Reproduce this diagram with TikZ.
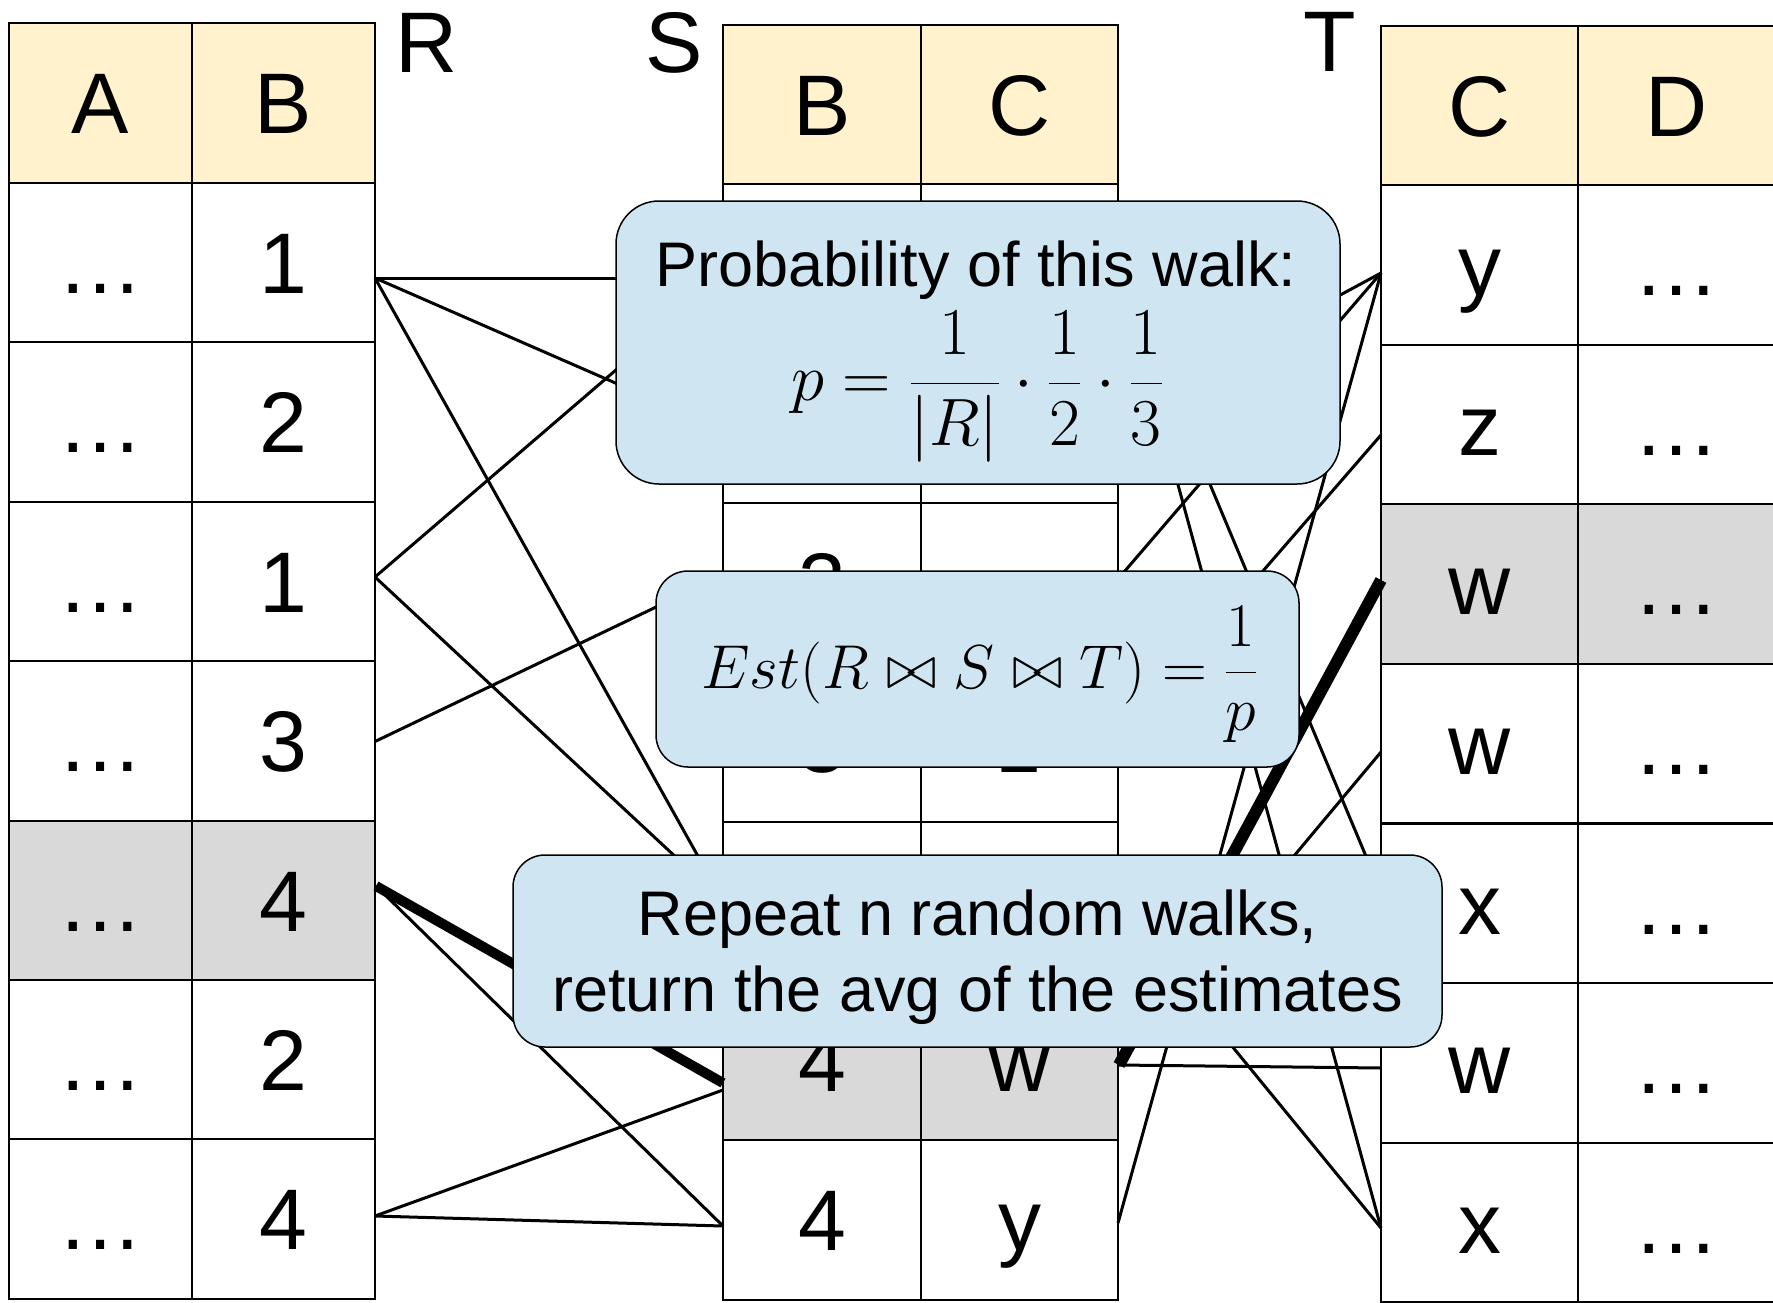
\RequirePackage{fix-cm}
\documentclass[tikz,border=0pt]{standalone}
\usepackage[no-math]{fontspec}
\setmainfont{Liberation Sans}
\definecolor{hdr}{HTML}{FFF2CC}
\definecolor{gry}{HTML}{D9D9D9}
\definecolor{boxblue}{RGB}{207,230,242}
\newcommand\cellfont{\fontsize{86}{90}\selectfont}
\newcommand\boxfont{\fontsize{63}{70}\selectfont}
\tikzset{
  cell/.style={draw=black, line width=2pt, inner sep=0pt, outer sep=0pt,
    minimum height=159.4pt, text height=61.6pt, text depth=0pt, font=\cellfont},
  rcol/.style={cell, minimum width=183pt},
  scola/.style={cell, minimum width=198pt},
  scolb/.style={cell, minimum width=197pt},
  tcol/.style={cell, minimum width=197pt},
  conn/.style={line width=3pt, black},
  walk/.style={line width=10pt, black},
  callout/.style={draw=black, line width=1.5pt, fill=boxblue, inner sep=0pt, outer sep=0pt},
  lbl/.style={anchor=base, inner sep=0pt, font=\cellfont},
  btxt/.style={anchor=base, inner sep=0pt, font=\boxfont},
}
\begin{document}
\begin{tikzpicture}[x=1pt,y=-1pt]
\useasboundingbox (0,0) rectangle (1773,1302);
\clip (0,0) rectangle (1773,1302);
\fill[white] (0,0) rectangle (1773,1302);

% ---------- table R ----------
\node[rcol, fill=hdr, minimum height=160pt] (R-A-0) at (100.5,103) {A};
\node[rcol, fill=hdr, minimum height=160pt] (R-B-0) at (283.5,103) {B};
\foreach \v/\f [count=\i] in {1/white,2/white,1/white,3/white,4/gry,2/white,4/white}{
  \pgfmathsetmacro\cy{183+(\i-0.5)*159.4}
  \node[rcol, fill=\f] (R-A-\i) at (100.5,\cy) {…};
  \node[rcol, fill=\f] (R-B-\i) at (283.5,\cy) {\v};
}
% ---------- table S (cells hidden by the callouts are left blank) ----------
\node[scola, fill=hdr, minimum height=159pt] (S-B-0) at (822,104.5) {B};
\node[scolb, fill=hdr, minimum height=159pt] (S-C-0) at (1019.5,104.5) {C};
\node[scola] (S-B-1) at (822,263.7) {};
\node[scolb] (S-C-1) at (1019.5,263.7) {};
\node[scola] (S-B-2) at (822,423.1) {};
\node[scolb] (S-C-2) at (1019.5,423.1) {};
\node[scola] (S-B-3) at (822,582.5) {3};
\node[scolb] (S-C-3) at (1019.5,582.5) {};
\node[scola] (S-B-4) at (822,741.9) {3};
\node[scolb] (S-C-4) at (1019.5,741.9) {z};
\node[scola] (S-B-5) at (822,901.3) {};
\node[scolb] (S-C-5) at (1019.5,901.3) {};
\node[scola, fill=gry] (S-B-6) at (822,1060.7) {4};
\node[scolb, fill=gry] (S-C-6) at (1019.5,1060.7) {w};
\node[scola] (S-B-7) at (822,1220.1) {4};
\node[scolb] (S-C-7) at (1019.5,1220.1) {y};
% ---------- table T ----------
\node[tcol, fill=hdr, minimum height=159pt] (T-C-0) at (1479.5,105.5) {C};
\node[tcol, fill=hdr, minimum height=159pt] (T-D-0) at (1676.5,105.5) {D};
\foreach \c/\f [count=\i] in {y/white,z/white,w/gry,w/white,x/white,w/white,x/white}{
  \pgfmathsetmacro\cy{185+(\i-0.5)*159.6}
  \node[tcol, fill=\f] (T-C-\i) at (1479.5,\cy) {\c};
  \node[tcol, fill=\f] (T-D-\i) at (1676.5,\cy) {…};
}
% ---------- labels ----------
\node[lbl] (lR) at (426.5,72) {R};
\node[lbl] (lS) at (674.5,72) {S};
\node[lbl] (lT) at (1329.5,71) {T};

% ---------- connector end points ----------
\coordinate (r1) at (375,278);
\coordinate (r3) at (375,577);
\coordinate (r4) at (375,741.5);
\coordinate (r5) at (376,886);
\coordinate (r7) at (375,1216);
\coordinate (sl1) at (723,278);
\coordinate (sl2) at (723,430);
\coordinate (sl3) at (723,575);
\coordinate (sl5) at (723,901);
\coordinate (sl6) at (723,1083);
\coordinate (sl6b) at (723,1090);
\coordinate (sl7) at (723,1226);
\coordinate (sr1) at (1118,265);
\coordinate (sr2) at (1118,415);
\coordinate (sr3) at (1118,579);
\coordinate (sr4) at (1118,738);
\coordinate (sr5) at (1118,907);
\coordinate (sr6) at (1119,1065);
\coordinate (sr7) at (1118,1223);
\coordinate (t1) at (1381,273);
\coordinate (t2) at (1381,435);
\coordinate (t3) at (1381,580);
\coordinate (t4) at (1381,752);
\coordinate (t5) at (1381,892);
\coordinate (t6) at (1381,1068);
\coordinate (t7) at (1381,1228);

% ---------- R -> S ----------
\draw[conn] (r1) -- (sl1);
\draw[conn] (r1) -- (sl2);
\draw[conn] (r1) -- (sl5);
\draw[conn] (r3) -- (sl1);
\draw[conn] (r3) -- (sl5);
\draw[conn] (r4) -- (sl3);
\draw[conn] (r5) -- (sl7);
\draw[conn] (r7) -- (sl6b);
\draw[conn] (r7) -- (sl7);
\draw[walk] (r5) -- (sl6);
% ---------- S -> T ----------
\draw[conn] (sr2) -- (t1);
\draw[conn] (sr3) -- (t1);
\draw[conn] (sr7) -- (t1);
\draw[conn] (sr4) -- (t2);
\draw[conn] (sr6) -- (t4);
\draw[conn] (sr6) -- (t6);
\draw[conn] (sr1) -- (t5);
\draw[conn] (sr1) -- (t7);
\draw[conn] (sr5) -- (t7);
\draw[walk, line width=12pt] (sr6) -- (t3);

% ---------- callouts ----------
\node[callout, rounded corners=43pt, minimum width=724pt, minimum height=283pt] (box1) at (978,342.5) {};
\node[btxt] (box1t) at (976,286) {Probability of this walk:};
\node[anchor=base, inner sep=0pt, font=\fontsize{67}{72}\selectfont] (box1f) at (977,400)
  {$\displaystyle p=\frac{1}{|R|}\cdot\frac{1}{2}\cdot\frac{1}{3}$};

\node[callout, rounded corners=32pt, minimum width=643pt, minimum height=196pt] (box2) at (977.5,669) {};
\node[anchor=base, inner sep=0pt, font=\fontsize{62}{70}\selectfont] (box2f) at (979.5,688)
  {$\displaystyle Est(R\bowtie S\bowtie T)=\frac{1}{p}$};

\node[callout, rounded corners=32pt, minimum width=929pt, minimum height=192pt] (box3) at (977.5,951) {};
\node[btxt] (box3a) at (977.5,935) {Repeat n random walks,};
\node[btxt] (box3b) at (977.5,1011.7) {return the avg of the estimates};
\end{tikzpicture}
\end{document}
